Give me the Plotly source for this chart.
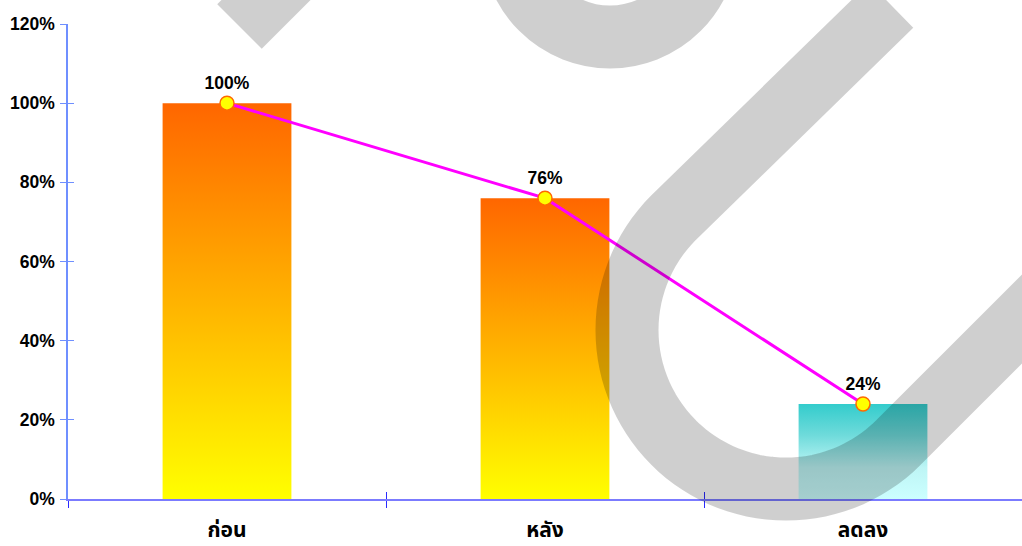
import math
import plotly.graph_objects as go

# ---------------- data ----------------
categories = ["ก่อน", "หลัง", "ลดลง"]
values = [1.00, 0.76, 0.24]
value_labels = [f"{round(v * 100)}%" for v in values]
y_tick_vals = [0, 0.2, 0.4, 0.6, 0.8, 1.0, 1.2]
y_tick_text = [f"{round(v * 100)}%" for v in y_tick_vals]

# ---------------- styles ----------------
W, H = 1022, 546
ML, MR, MT, MB = 68, 0, 24, 47
BAR_W = 0.405
warm_scale = [[0, "#ffff00"], [1, "#ff6600"]]
cool_scale = [[0, "#ccffff"], [0.33, "#bdf5f5"], [0.67, "#6fdbdb"], [1, "#33cccc"]]
bar_scales = [warm_scale, warm_scale, cool_scale]
FONT = "Liberation Sans, Arial, sans-serif"
THAI_FONT = "Tahoma, 'Noto Sans Thai', 'Loma', 'Garuda', 'Liberation Sans', sans-serif"

fig = go.Figure()

# gradient bars drawn as filled rectangles in data space
for i, (v, cs) in enumerate(zip(values, bar_scales)):
    x0, x1 = i - BAR_W / 2, i + BAR_W / 2
    fig.add_trace(go.Scatter(
        x=[x0, x1, x1, x0, x0], y=[0, 0, v, v, 0],
        mode="lines", fill="toself", line=dict(width=0),
        fillgradient=dict(type="vertical", colorscale=cs),
        hoverinfo="skip", showlegend=False,
    ))

# line with markers and labels
fig.add_trace(go.Scatter(
    x=list(range(len(categories))), y=values,
    mode="lines+markers+text",
    line=dict(color="#ff00ff", width=3),
    marker=dict(size=14, color="#ffff00", line=dict(color="#ff6a00", width=1.5)),
    text=value_labels, textposition="top center",
    textfont=dict(family=FONT, size=17.5, color="#000000", weight="bold"),
    showlegend=False, hoverinfo="skip", cliponaxis=False,
))

# invisible trace to activate overlay axes (used for crossing ticks)
fig.add_trace(go.Scatter(x=[0], y=[0], xaxis="x2", yaxis="y2", mode="markers",
                         marker=dict(opacity=0), showlegend=False, hoverinfo="skip"))

# ---------------- watermark (decoration) ----------------
pw, ph = W - ML - MR, H - MT - MB


def P(x, y):
    return (x - ML) / pw, (H - MB - y) / ph


def path_from(points):
    s = ""
    for k, (x, y) in enumerate(points):
        px, py = P(x, y)
        s += ("M" if k == 0 else "L") + f"{px:.5f},{py:.5f} "
    return s


WM = "rgba(0,0,0,0.19)"
SW = 63
r2 = math.sqrt(2)
a = (1 / r2, 1 / r2)      # across
u = (1 / r2, -1 / r2)     # along (up-right)
C = (786.0, 330.1)
R = 159
pts = [(891.25, 5.25)]
for k in range(0, 61):
    th = math.pi * k / 60
    pts.append((C[0] + R * (-math.cos(th) * a[0] - math.sin(th) * u[0]),
                C[1] + R * (-math.cos(th) * a[1] - math.sin(th) * u[1])))
end = (C[0] + R * a[0] + 600 * u[0], C[1] + R * a[1] + 600 * u[1])
pts.append(end)

shapes = [
    dict(type="path", xref="paper", yref="paper", path=path_from(pts),
         line=dict(color=WM, width=SW), fillcolor="rgba(0,0,0,0)", layer="above"),
    dict(type="path", xref="paper", yref="paper",
         path=path_from([(239.5, 26.5), (239.5 + 200, 26.5 - 200)]),
         line=dict(color=WM, width=SW), fillcolor="rgba(0,0,0,0)", layer="above"),
]
cx0, cy0 = P(610 - 97, -60 + 97)
cx1, cy1 = P(610 + 97, -60 - 97)
shapes.append(dict(type="circle", xref="paper", yref="paper",
                   x0=cx0, x1=cx1, y0=cy1, y1=cy0,
                   line=dict(color=WM, width=SW), fillcolor="rgba(0,0,0,0)", layer="above"))

boundaries = [i - 0.5 for i in range(len(categories) + 1)]

fig.update_layout(
    width=W, height=H,
    margin=dict(l=ML, r=MR, t=MT, b=MB, autoexpand=False),
    paper_bgcolor="white", plot_bgcolor="white",
    showlegend=False,
    shapes=shapes,
    xaxis=dict(
        range=[-0.5, len(categories) - 0.5],
        tickvals=list(range(len(categories))), ticktext=categories,
        ticks="", showgrid=False, zeroline=False, automargin=False,
        showline=True, linecolor="#7b7bff", linewidth=2,
        tickfont=dict(family=THAI_FONT, size=21, color="#000000", weight="bold"),
        minor=dict(tickvals=boundaries, ticks="outside", ticklen=7,
                   tickcolor="#2a2aff", tickwidth=1, showgrid=False),
        ticklabelstandoff=11,
        fixedrange=True,
    ),
    yaxis=dict(
        range=[0, 1.2], tickvals=y_tick_vals, ticktext=y_tick_text,
        ticks="outside", ticklen=6, tickcolor="#6f8fff", tickwidth=1,
        showgrid=False, zeroline=False, automargin=False,
        showline=True, linecolor="#6f8fff", linewidth=1.5,
        tickfont=dict(family=FONT, size=17.5, color="#000000", weight="bold"),
        ticklabelstandoff=2,
        fixedrange=True,
    ),
    xaxis2=dict(overlaying="x", anchor="y", side="bottom", automargin=False,
                range=[-0.5, len(categories) - 0.5], tickvals=boundaries,
                ticks="inside", ticklen=7, tickcolor="#2a2aff", tickwidth=1,
                showticklabels=False, showline=False, showgrid=False, zeroline=False),
    yaxis2=dict(overlaying="y", anchor="x", side="left", automargin=False,
                range=[0, 1.2], tickvals=y_tick_vals,
                ticks="inside", ticklen=6, tickcolor="#6f8fff", tickwidth=1,
                showticklabels=False, showline=False, showgrid=False, zeroline=False),
)

fig.write_html("out.html")
